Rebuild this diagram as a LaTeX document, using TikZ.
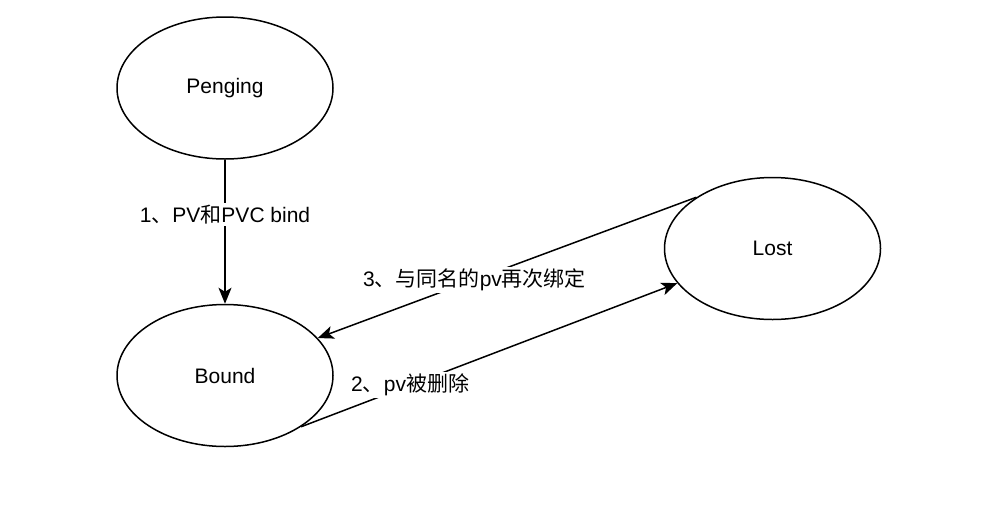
\documentclass[tikz,border=0pt]{standalone}
\usepackage{fontspec}
\setmainfont{Liberation Sans}
\newfontfamily\cjk{Noto Sans CJK SC}
\usetikzlibrary{arrows.meta, positioning, shapes.geometric}

\begin{document}
\begin{tikzpicture}[x=1pt, y=-1pt, state/.style={ellipse,draw,minimum width=216pt,minimum height=142pt}, lbl/.style={fill=white,inner sep=2pt}, ->, >={Stealth[length=16pt,width=13pt,inset=4pt]}, line width=1.5pt, font=\fontsize{21}{25}\selectfont]
        \useasboundingbox (0,0) rectangle (984,504);
        \node[state] (pen) at (225,88) {Penging};
        \node[state, below=144pt of pen] (bnd) {Bound};
        \node[state, right=330pt of bnd, yshift=127pt] (lost) {Lost};

        \path (pen) edge node[lbl, pos=0.38] {1{\cjk 、}PV{\cjk 和}PVC bind} (bnd);
        \path (lost.146) edge node[lbl, pos=0.586] {3{\cjk 、与同名的}pv{\cjk 再次绑定}} (bnd.22);
        \path (bnd.-34) edge node[lbl, pos=0.29] {2{\cjk 、}pv{\cjk 被删除}} (lost.200);
    \end{tikzpicture}
\end{document}
